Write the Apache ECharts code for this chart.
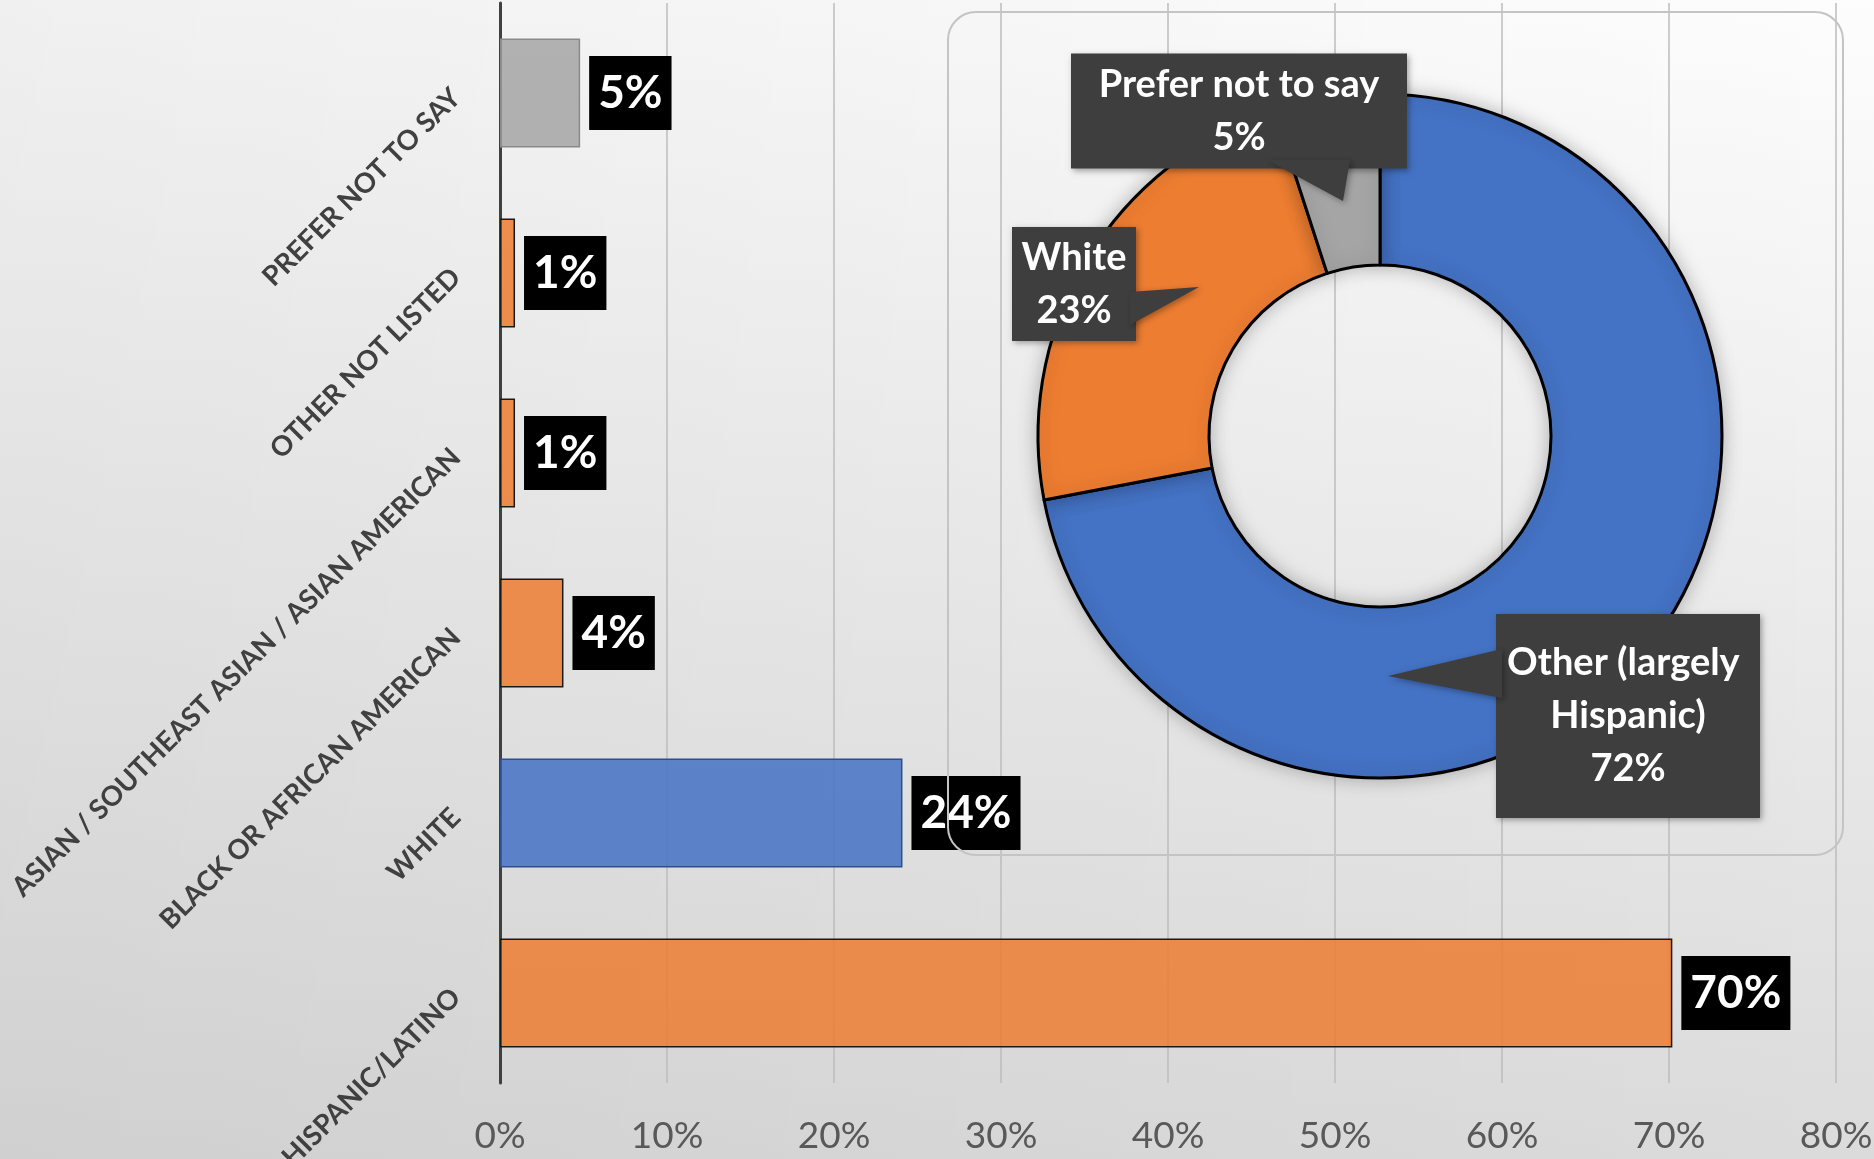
<!DOCTYPE html>
<html><head><meta charset="utf-8">
<script src="https://cdn.jsdelivr.net/npm/echarts@6/dist/echarts.min.js"></script>
<style>html,body{margin:0;padding:0;overflow:hidden;} #c{width:1874px;height:1159px;}</style>
</head><body><div id="c"></div>
<script>
// ---- data ----
const categories = ['PREFER NOT TO SAY', 'OTHER NOT LISTED', 'ASIAN / SOUTHEAST ASIAN / ASIAN AMERICAN', 'BLACK OR AFRICAN AMERICAN', 'WHITE', 'HISPANIC/LATINO'];
const barValues = [4.8, 0.9, 0.9, 3.8, 24.1, 70.2];
const xTickMax = 80;
const xTickStep = 10;
const pieNames = ['Other (largely Hispanic)', 'White', 'Prefer not to say'];
const pieValues = [72, 23, 5];

// ---- styles / layout ----
const barFills = ['rgba(165,165,165,0.85)', 'rgba(237,125,49,0.85)', 'rgba(237,125,49,0.85)', 'rgba(237,125,49,0.85)', 'rgba(68,114,196,0.85)', 'rgba(237,125,49,0.85)'];
const barBorders = ['#8a8a8a', '#1a1a1a', '#1a1a1a', '#1a1a1a', '#2f4f8a', '#1a1a1a'];
const pieColors = ['#4472C4', '#ED7D31', '#A5A5A5'];
const pieCenter = [1380, 436];
const pieRadius = [171, 342];
const calloutBg = '#3e3e3e';
const pieLabelBox = [
  { cx: 1628, cy: 716, w: 264, pad: [22, 4, 23, 4] },
  { cx: 1074, cy: 284, w: 124, pad: [4, 0, 4, 0] },
  { cx: 1239, cy: 111, w: 336, pad: [5, 0, 4, 0] }
];
const pointers = [
  [[1502, 649], [1502, 698], [1388, 676]],
  [[1130, 292], [1130, 325], [1199, 287]],
  [[1267, 160], [1350, 160], [1343, 201]]
];

const chart = echarts.init(document.getElementById('c'), null, { renderer: 'canvas' });

const barData = barValues.map((v, i) => ({
  value: v,
  itemStyle: { color: barFills[i], borderColor: barBorders[i], borderWidth: 1.5 }
}));

const pieData = pieValues.map((v, i) => ({
  name: pieNames[i],
  value: v,
  itemStyle: { color: pieColors[i] },
  label: { width: pieLabelBox[i].w - pieLabelBox[i].pad[1] - pieLabelBox[i].pad[3], padding: pieLabelBox[i].pad }
}));

const graphics = [
  {
    type: 'rect', z: -100, silent: true,
    shape: { x: 0, y: 0, width: 1874, height: 1159 },
    style: { fill: { type: 'linear', x: 0, y: 0, x2: 1, y2: 0, colorStops: [
      { offset: 0, color: 'rgba(0,0,0,0.05)' }, { offset: 1, color: 'rgba(0,0,0,0)' } ] } }
  },
  {
    type: 'rect', z: 50, silent: true,
    shape: { x: 948, y: 12, width: 895, height: 843, r: 28 },
    style: { fill: 'none', stroke: '#c4c4c4', lineWidth: 2 }
  }
];
pointers.forEach(p => graphics.push({
  type: 'polygon', z: 60, silent: true,
  shape: { points: p },
  style: { fill: calloutBg, shadowBlur: 6, shadowColor: 'rgba(0,0,0,0.35)', shadowOffsetX: 2, shadowOffsetY: 2 }
}));

const option = {
  animation: false,
  backgroundColor: { type: 'linear', x: 0, y: 0, x2: 0, y2: 1, colorStops: [
    { offset: 0, color: '#fdfdfd' }, { offset: 1, color: '#dbdbdb' } ] },
  textStyle: { fontFamily: 'Lato' },
  grid: { left: 500, right: 38, top: 3, bottom: 76, containLabel: false, outerBoundsMode: 'none' },
  xAxis: {
    type: 'value', min: 0, max: xTickMax, interval: xTickStep,
    axisLine: { show: false }, axisTick: { show: false },
    splitLine: { show: true, lineStyle: { color: '#bdbdbd', width: 1.5 } },
    axisLabel: { formatter: '{value}%', fontFamily: 'Lato', fontSize: 37, color: '#595959', margin: 35 }
  },
  yAxis: {
    type: 'category', data: categories, inverse: true,
    axisLine: { show: true, lineStyle: { color: '#404040', width: 3 } },
    axisTick: { show: false },
    splitLine: { show: false },
    axisLabel: { rotate: 45, margin: 44, fontFamily: 'Lato', fontWeight: 'bold', fontSize: 27.5, color: '#404040' }
  },
  graphic: graphics,
  series: [
    {
      type: 'bar', data: barData, barCategoryGap: '39.5%', z: 2,
      label: {
        show: true, position: 'right', distance: 9,
        formatter: p => Math.round(p.value) + '%',
        backgroundColor: '#000', color: '#fff',
        fontFamily: 'Lato', fontWeight: 'bold', fontSize: 46, lineHeight: 54,
        padding: [10, 9, 10, 9]
      },
      emphasis: { disabled: true }
    },
    {
      type: 'pie', center: pieCenter, radius: pieRadius, startAngle: 90, clockwise: true,
      avoidLabelOverlap: false, z: 20,
      data: pieData,
      itemStyle: { borderColor: '#000', borderWidth: 3, shadowBlur: 18, shadowColor: 'rgba(0,0,0,0.25)' },
      label: {
        show: true, position: 'outside', formatter: '{b}\n{c}%',
        overflow: 'break', align: 'center',
        color: '#fff', fontFamily: 'Lato', fontWeight: 'bold', fontSize: 38, lineHeight: 53,
        backgroundColor: calloutBg,
        shadowBlur: 6, shadowColor: 'rgba(0,0,0,0.35)', shadowOffsetX: 2, shadowOffsetY: 2
      },
      labelLine: { show: false },
      labelLayout: function (params) {
        const b = pieLabelBox[params.dataIndex];
        return { x: b.cx, y: b.cy, align: 'center', verticalAlign: 'middle' };
      },
      emphasis: { disabled: true }
    }
  ]
};
chart.setOption(option);
</script>
</body></html>
